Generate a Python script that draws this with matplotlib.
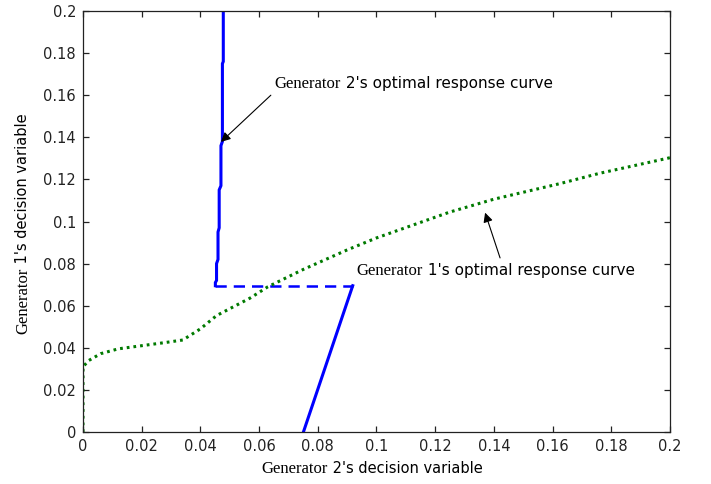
import matplotlib
matplotlib.use("Agg")
import matplotlib.pyplot as plt

# Generator 2's optimal response (solid parts + dashed jump)
g2_upper_x = [0.0478, 0.0478, 0.0475, 0.0475, 0.0470, 0.0470, 0.0464, 0.0464,
              0.0460, 0.0460, 0.0455, 0.0455, 0.0451, 0.0451]
g2_upper_y = [0.200, 0.176, 0.175, 0.138, 0.136, 0.117, 0.115, 0.097,
              0.095, 0.082, 0.080, 0.072, 0.071, 0.0695]
g2_jump_x = [0.0451, 0.0919]
g2_jump_y = [0.0695, 0.0695]
g2_lower_x = [0.0919, 0.0751]
g2_lower_y = [0.0695, 0.0]

# Generator 1's optimal response
g1_x = [0.0, 0.0, 0.002, 0.006, 0.012, 0.020, 0.028, 0.034, 0.040, 0.0455,
        0.0569, 0.063, 0.075, 0.090, 0.100, 0.125, 0.140, 0.1625, 0.176, 0.200]
g1_y = [0.0, 0.031, 0.034, 0.0372, 0.0395, 0.041, 0.0425, 0.0437, 0.049, 0.0553,
        0.0636, 0.0690, 0.0772, 0.0865, 0.0922, 0.1045, 0.1106, 0.1180, 0.1229, 0.1303]

ticks = [0, 0.02, 0.04, 0.06, 0.08, 0.1, 0.12, 0.14, 0.16, 0.18, 0.2]
tick_labels = ["0", "0.02", "0.04", "0.06", "0.08", "0.1", "0.12", "0.14", "0.16", "0.18", "0.2"]

SANS = "DejaVu Sans"
SERIF = "Liberation Serif"

fig = plt.figure(figsize=(7.11, 4.84), dpi=100)
ax = fig.add_axes([83/711, 52/484, 587/711, 421/484])

blue = "#0000ff"
ax.plot(g2_upper_x, g2_upper_y, color=blue, lw=2.2, solid_joinstyle="miter")
ax.plot(g2_jump_x, g2_jump_y, color=blue, lw=1.8, linestyle=(0, (4.5, 2.8)))
ax.plot(g2_lower_x, g2_lower_y, color=blue, lw=2.2)
ax.plot(g1_x, g1_y, color="#007a00", lw=2.2, linestyle=(0, (0.9, 1.3)))

ax.set_xlim(0, 0.2)
ax.set_ylim(0, 0.2)
ax.set_xticks(ticks)
ax.set_yticks(ticks)
ax.set_xticklabels(tick_labels, fontsize=10.5, family=SANS)
ax.set_yticklabels(tick_labels, fontsize=10.5, family=SANS)
ax.tick_params(direction="in", length=4, width=0.9, top=True, right=True, pad=5, colors="#222222")
for s in ax.spines.values():
    s.set_linewidth(0.9)
    s.set_color("#222222")

arrow = dict(arrowstyle="-|>", color="black", lw=0.8, mutation_scale=14, shrinkA=0, shrinkB=0)

def two_font_text(x, y, rest, transform, fs=11, fs_serif=12, rotation=0):
    kw = dict(transform=transform, va="baseline")
    if rotation:
        kw.update(rotation=90, rotation_mode="anchor")
    t1 = ax.text(x, y, "Generator", family=SERIF, fontsize=fs_serif, ha="right", **kw)
    t2 = ax.text(x, y, rest, family=SANS, fontsize=fs, ha="left", **kw)
    for t in (t1, t2):
        t.set_clip_on(False)

# Annotation arrows
ax.annotate("", xy=(0.0470, 0.1378), xytext=(0.0640, 0.1600), arrowprops=arrow)
ax.annotate("", xy=(0.1370, 0.1042), xytext=(0.1421, 0.0827), arrowprops=arrow)

# Annotation texts (serif "Generator" + sans remainder)
two_font_text(0.0879, 0.1634, " 2's optimal response curve", ax.transData)
two_font_text(0.1158, 0.0746, " 1's optimal response curve", ax.transData)

# Axis labels
two_font_text(328/711, 11/484, " 2's decision variable", fig.transFigure, fs=10.5)
two_font_text(27/711, (484-268)/484, " 1's decision variable", fig.transFigure, fs=10.5, rotation=90)

fig.savefig("out.png", dpi=100)
